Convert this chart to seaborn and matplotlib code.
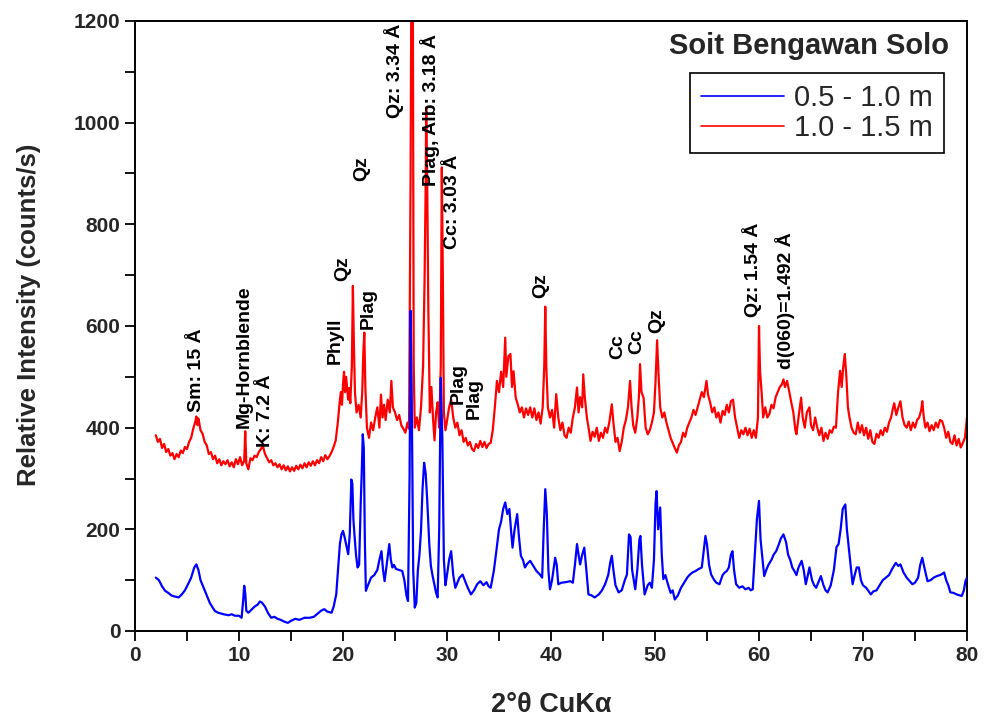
import numpy as np
import pandas as pd
import matplotlib
matplotlib.use("Agg")
import matplotlib.pyplot as plt
from matplotlib.ticker import MultipleLocator
import seaborn as sns

# ---------------- data ----------------
red_x = [2.0, 2.2, 2.4, 2.6, 2.8, 3.0, 3.2, 3.4, 3.6, 3.8, 4.0, 4.2, 4.4, 4.6, 4.8, 5.0, 5.2, 5.4, 5.6, 5.8,
         5.9, 6.0, 6.1, 6.3, 6.5, 6.7, 6.9, 7.1, 7.3, 7.5, 7.7, 7.9, 8.1, 8.3, 8.5, 8.7, 8.9, 9.1, 9.3, 9.5,
         9.7, 9.9, 10.1, 10.3, 10.5, 10.6, 10.7, 10.9, 11.1, 11.3, 11.5, 11.7, 11.9, 12.1, 12.3, 12.5, 12.7,
         12.9, 13.1, 13.3, 13.5, 13.7, 13.9, 14.1, 14.3, 14.5, 14.7, 14.9, 15.1, 15.3, 15.5, 15.7, 15.9, 16.1,
         16.3, 16.5, 16.7, 16.9, 17.1, 17.3, 17.5, 17.7, 17.9, 18.1, 18.3, 18.5, 18.7, 18.9, 19.1, 19.3, 19.5,
         19.7, 19.8, 19.9, 20.0, 20.1, 20.2, 20.3, 20.5, 20.6, 20.7, 20.85, 20.95, 21.05, 21.15, 21.3, 21.5,
         21.7, 21.85, 21.95, 22.05, 22.15, 22.3, 22.5, 22.7, 22.9, 23.1, 23.3, 23.5, 23.65, 23.8, 23.95, 24.1,
         24.3, 24.5, 24.65, 24.8, 25.0, 25.2, 25.4, 25.6, 25.8, 26.0, 26.2, 26.35, 26.5, 26.6, 26.7, 26.8,
         26.9, 27.1, 27.3, 27.5, 27.7, 27.85, 27.95, 28.0, 28.1, 28.2, 28.35, 28.5, 28.65, 28.8, 28.95, 29.1,
         29.25, 29.4, 29.5, 29.6, 29.7, 29.85, 30.0, 30.2, 30.4, 30.6, 30.8, 31.0, 31.2, 31.4, 31.6, 31.8,
         32.0, 32.2, 32.4, 32.6, 32.8, 33.0, 33.2, 33.4, 33.6, 33.8, 34.0, 34.2, 34.4, 34.6, 34.8, 35.0, 35.2,
         35.4, 35.6, 35.7, 35.9, 36.1, 36.25, 36.4, 36.6, 36.8, 37.0, 37.2, 37.4, 37.6, 37.8, 38.0, 38.2,
         38.4, 38.6, 38.8, 39.0, 39.2, 39.35, 39.45, 39.55, 39.7, 39.9, 40.1, 40.3, 40.5, 40.7, 40.9, 41.1,
         41.3, 41.5, 41.7, 41.9, 42.1, 42.3, 42.5, 42.65, 42.8, 43.0, 43.1, 43.25, 43.45, 43.65, 43.8, 44.0,
         44.2, 44.4, 44.6, 44.8, 45.0, 45.2, 45.4, 45.6, 45.85, 46.0, 46.2, 46.4, 46.6, 46.8, 47.0, 47.2,
         47.4, 47.6, 47.75, 47.9, 48.1, 48.3, 48.45, 48.56, 48.7, 48.9, 49.1, 49.3, 49.5, 49.7, 49.9, 50.05,
         50.2, 50.35, 50.5, 50.7, 50.9, 51.1, 51.3, 51.5, 51.7, 51.9, 52.1, 52.3, 52.5, 52.7, 52.9, 53.1,
         53.3, 53.5, 53.7, 53.9, 54.1, 54.3, 54.5, 54.7, 54.95, 55.1, 55.3, 55.5, 55.7, 55.9, 56.1, 56.3,
         56.5, 56.7, 56.9, 57.1, 57.3, 57.5, 57.7, 57.9, 58.1, 58.3, 58.5, 58.7, 58.9, 59.1, 59.3, 59.5,
         59.7, 59.9, 60.0, 60.1, 60.25, 60.4, 60.6, 60.8, 61.0, 61.2, 61.4, 61.6, 61.8, 62.0, 62.2, 62.35,
         62.5, 62.7, 62.9, 63.1, 63.3, 63.5, 63.6, 63.8, 64.05, 64.2, 64.4, 64.6, 64.85, 65.0, 65.2, 65.4,
         65.6, 65.8, 66.0, 66.2, 66.4, 66.6, 66.8, 67.0, 67.2, 67.4, 67.6, 67.8, 67.95, 68.1, 68.25, 68.4,
         68.55, 68.7, 68.9, 69.1, 69.3, 69.5, 69.7, 69.9, 70.1, 70.3, 70.5, 70.7, 70.9, 71.1, 71.3, 71.5,
         71.7, 71.9, 72.1, 72.3, 72.5, 72.7, 72.9, 73.0, 73.2, 73.4, 73.6, 73.8, 74.0, 74.2, 74.4, 74.6,
         74.8, 75.0, 75.2, 75.4, 75.6, 75.7, 75.85, 76.0, 76.2, 76.4, 76.6, 76.8, 77.0, 77.2, 77.4, 77.6,
         77.8, 78.0, 78.2, 78.4, 78.6, 78.8, 79.0, 79.2, 79.4, 79.6, 79.8, 80.0]
red_y = [385, 372, 378, 360, 368, 352, 358, 345, 350, 338, 348, 342, 355, 350, 362, 358, 372, 380, 398, 412,
         422, 405, 418, 395, 388, 372, 365, 348, 352, 338, 345, 330, 338, 326, 334, 328, 336, 324, 332, 322,
         338, 328, 342, 326, 335, 393, 330, 318, 340, 336, 345, 342, 352, 358, 364, 348, 340,
         332, 336, 326, 330, 322, 328, 318, 326, 316, 324, 314, 322, 315, 325, 318, 327, 320,
         330, 322, 332, 325, 334, 326, 336, 330, 342, 334, 346, 338, 344, 352, 362, 375, 410,
         455, 470, 445, 485, 510, 470, 500, 455, 478, 448, 520, 679, 560, 470, 430, 445,
         420, 470, 545, 587, 480, 400, 380, 410, 395, 420, 440, 400, 465, 420, 445, 415,
         455, 430, 492, 440, 430, 415, 425, 405, 398, 390, 410, 398, 900, 1420, 1380, 520,
         400, 420, 395, 440, 520, 700, 880, 1030, 880, 640, 430, 480, 420, 375, 430, 450,
         400, 520, 912, 700, 430, 395, 413, 440, 455, 420, 400, 410, 385, 395, 372, 380,
         365, 372, 358, 354, 368, 360, 374, 362, 372, 360, 368, 370, 395, 440, 492, 470, 510,
         480, 577, 500, 540, 545, 480, 511, 460, 446, 430, 440, 420, 438, 425, 440, 420,
         438, 415, 430, 408, 440, 520, 638, 520, 440, 420, 435, 400, 466, 420, 395, 410,
         385, 380, 400, 390, 420, 440, 479, 430, 460, 440, 505, 460, 420, 395, 374, 392,
         382, 400, 374, 390, 380, 400, 390, 410, 446, 410, 372, 380, 354, 372, 400, 415,
         440, 492, 440, 405, 390, 420, 460, 525, 470, 459, 400, 387, 395, 410, 430, 490,
         572, 500, 440, 420, 430, 410, 395, 380, 370, 360, 351, 365, 372, 390, 382, 400,
         410, 420, 435, 425, 440, 455, 470, 460, 492, 465, 450, 430, 440, 420, 430, 410,
         433, 425, 445, 430, 452, 455, 420, 400, 380, 395, 387, 400, 385, 398, 380, 395,
         380, 420, 600, 512, 470, 420, 440, 420, 427, 445, 438, 460, 470, 480, 485, 495,
         480, 492, 472, 450, 430, 395, 387, 420, 459, 420, 400, 430, 440, 405, 395, 420,
         400, 385, 400, 374, 390, 378, 395, 390, 402, 400, 470, 512, 480, 520, 545, 500,
         440, 420, 400, 390, 387, 410, 390, 405, 385, 400, 378, 395, 372, 368, 388, 380,
         395, 385, 400, 392, 410, 420, 440, 448, 425, 440, 452, 420, 405, 400, 412, 395,
         410, 400, 415, 420, 435, 452, 420, 400, 410, 393, 405, 395, 410, 400, 415, 413,
         400, 380, 392, 372, 368, 385, 365, 378, 361, 370, 380, 420]

blue_x = [2.0, 2.3, 2.6, 2.9, 3.2, 3.5, 3.8, 4.2, 4.5, 4.8, 5.1, 5.4, 5.7, 5.9, 6.1, 6.3, 6.6, 6.9, 7.2, 7.5,
          7.7, 8.0, 8.5, 9.0, 9.3, 9.6, 10.0, 10.25, 10.4, 10.5, 10.6, 10.7, 10.9, 11.2, 11.5, 11.8, 12.0,
          12.2, 12.5, 12.8, 13.1, 13.4, 13.7, 14.0, 14.4, 14.7, 15.0, 15.4, 15.8, 16.3, 16.8, 17.2, 17.6,
          17.9, 18.2, 18.5, 18.9, 19.1, 19.35, 19.55, 19.7, 19.85, 20.0, 20.15, 20.3, 20.5, 20.65, 20.8,
          20.9, 21.0, 21.1, 21.25, 21.4, 21.55, 21.7, 21.8, 21.9, 22.0, 22.1, 22.2, 22.4, 22.7, 23.0, 23.3,
          23.5, 23.7, 23.85, 24.0, 24.2, 24.45, 24.6, 24.75, 24.9, 25.1, 25.4, 25.7, 25.9, 26.1, 26.25,
          26.4, 26.5, 26.6, 26.75, 26.9, 27.05, 27.2, 27.35, 27.5, 27.65, 27.8, 27.95, 28.1, 28.3, 28.45,
          28.6, 28.8, 28.95, 29.1, 29.25, 29.4, 29.55, 29.7, 29.85, 30.0, 30.2, 30.4, 30.6, 30.8, 31.0,
          31.2, 31.5, 31.8, 32.0, 32.3, 32.6, 32.9, 33.2, 33.5, 33.8, 34.0, 34.2, 34.5, 34.7, 35.0, 35.2,
          35.4, 35.6, 35.8, 36.0, 36.15, 36.3, 36.5, 36.75, 36.9, 37.1, 37.3, 37.5, 37.7, 38.0, 38.3, 38.6,
          38.9, 39.15, 39.3, 39.45, 39.6, 39.75, 39.9, 40.1, 40.4, 40.55, 40.7, 41.0, 41.4, 41.85, 42.1,
          42.3, 42.5, 42.65, 42.8, 43.0, 43.2, 43.4, 43.6, 43.9, 44.2, 44.6, 44.9, 45.2, 45.5, 45.7, 45.85,
          46.0, 46.2, 46.5, 46.8, 47.1, 47.3, 47.5, 47.65, 47.8, 48.1, 48.3, 48.5, 48.6, 48.75, 49.0, 49.3,
          49.5, 49.7, 49.9, 50.05, 50.15, 50.3, 50.5, 50.65, 50.8, 51.0, 51.2, 51.5, 51.7, 51.9, 52.2, 52.5,
          52.8, 53.1, 53.35, 53.6, 53.9, 54.2, 54.5, 54.7, 54.85, 55.0, 55.2, 55.4, 55.7, 55.9, 56.2, 56.5,
          56.7, 56.9, 57.1, 57.3, 57.45, 57.6, 57.8, 58.1, 58.4, 58.7, 59.0, 59.2, 59.4, 59.6, 59.8, 60.0,
          60.15, 60.3, 60.5, 60.7, 60.9, 61.2, 61.4, 61.65, 61.9, 62.1, 62.35, 62.6, 62.8, 63.0, 63.2, 63.4,
          63.6, 63.8, 64.1, 64.3, 64.5, 64.7, 64.85, 65.1, 65.3, 65.5, 65.7, 65.95, 66.2, 66.4, 66.6, 66.9,
          67.2, 67.45, 67.65, 67.85, 68.05, 68.3, 68.45, 68.6, 68.7, 68.85, 69.0, 69.2, 69.4, 69.6, 69.8,
          70.0, 70.3, 70.55, 70.75, 71.0, 71.3, 71.6, 71.9, 72.2, 72.5, 72.8, 73.15, 73.4, 73.6, 73.9, 74.2,
          74.5, 74.75, 75.0, 75.3, 75.5, 75.7, 75.9, 76.2, 76.5, 76.8, 77.1, 77.4, 77.6, 77.8, 78.0, 78.2,
          78.4, 78.7, 79.0, 79.3, 79.5, 79.7, 79.85, 80.0]
blue_y = [105, 100, 88, 79, 75, 70, 68, 66, 72, 80, 92, 105, 125, 131, 120, 100, 85, 70, 55, 45,
          39, 36, 33, 31, 33, 30, 30, 26, 60, 89, 75, 40, 36, 42, 48, 52, 58,
          56, 48, 35, 26, 28, 24, 22, 18, 16, 20, 24, 22, 26, 26, 28, 35,
          40, 43, 38, 36, 48, 72, 130, 171, 190, 197, 185, 170, 151, 190, 298,
          290, 220, 190, 150, 125, 130, 250, 310, 387, 360, 180, 79, 90, 105, 110, 120,
          140, 157, 120, 98, 130, 171, 140, 125, 130, 122, 120, 118, 100, 70, 59,
          300, 630, 480, 120, 46, 55, 120, 150, 197, 280, 331, 310, 256, 170, 128,
          110, 90, 75, 66, 200, 498, 380, 140, 90, 110, 140, 157, 110, 85, 95,
          105, 111, 95, 85, 72, 80, 92, 98, 90, 96, 88, 85, 118, 150, 200, 215,
          240, 253, 230, 240, 200, 164, 200, 230, 190, 148, 140, 125, 132, 138, 128, 118,
          112, 105, 200, 279, 230, 120, 82, 100, 144, 130, 92, 95, 96, 98, 95,
          130, 171, 150, 131, 150, 164, 120, 72, 70, 66, 72, 80, 92, 110, 135, 148,
          120, 90, 76, 80, 100, 111, 190, 185, 120, 82, 120, 180, 187, 130, 72, 90,
          95, 85, 140, 250, 275, 200, 243, 150, 102, 110, 95, 75, 80, 62, 70, 85,
          95, 105, 111, 115, 118, 122, 125, 160, 187, 170, 130, 111, 100, 95, 92, 110,
          115, 118, 125, 150, 157, 120, 92, 85, 88, 82, 85, 80, 82, 150, 220, 256,
          180, 150, 108, 120, 130, 140, 150, 157, 170, 182, 190, 175, 150, 140, 125, 118,
          110, 125, 138, 120, 92, 110, 125, 100, 90, 85, 95, 108, 90, 80, 76, 90,
          120, 165, 171, 200, 240, 249, 200, 170, 151, 120, 92, 110, 125, 125, 100,
          90, 85, 78, 72, 78, 80, 90, 100, 105, 110, 122, 134, 128, 131, 115, 105,
          98, 92, 95, 105, 130, 144, 125, 98, 100, 105, 108, 110, 112, 115, 100, 90,
          76, 75, 72, 70, 69, 80, 98, 105]

series_labels = ["0.5 - 1.0 m", "1.0 - 1.5 m"]
legend_title = "Soit Bengawan Solo"

peak_labels = ["Sm: 15 Å", "Mg-Hornblende", "K: 7.2 Å", "Phyll", "Qz", "Qz", "Plag",
               "Qz: 3.34 Å", "Plag, Alb: 3.18 Å", "Cc: 3.03 Å", "Plag", "Plag",
               "Qz", "Cc", "Cc", "Qz", "Qz: 1.54 Å", "d(060)=1.492 Å"]
peak_label_x = [5.9, 10.55, 12.55, 19.25, 20.0, 21.8, 22.4,
                24.9, 28.35, 30.5, 31.1, 32.65,
                39.0, 46.4, 48.2, 50.15, 59.35, 62.5]
peak_label_y = [430, 400, 361, 525, 689, 885, 594,
                1010, 875, 751, 446, 417,
                656, 536, 545, 587, 617, 515]

x_ticks = [0, 10, 20, 30, 40, 50, 60, 70, 80]
y_ticks = [0, 200, 400, 600, 800, 1000, 1200]

# ---------------- plot ----------------
sns.set_theme(style="ticks")
plt.rcParams["font.family"] = ["Liberation Sans", "DejaVu Sans"]

df_blue = pd.DataFrame({"x": blue_x, "y": blue_y})
df_red = pd.DataFrame({"x": red_x, "y": red_y})

fig = plt.figure(figsize=(9.85, 7.23), dpi=100)
ax = fig.add_axes([135 / 985, 92 / 723, 832 / 985, 610 / 723])

sns.lineplot(data=df_red, x="x", y="y", ax=ax, color="#ff0000", lw=1.6,
             estimator=None, sort=False, label=series_labels[1], zorder=2)
sns.lineplot(data=df_blue, x="x", y="y", ax=ax, color="#0000ff", lw=1.6,
             estimator=None, sort=False, label=series_labels[0], zorder=3)

ax.set_xlim(0, 80)
ax.set_ylim(0, 1200)
ax.set_xticks(x_ticks)
ax.set_yticks(y_ticks)
ax.xaxis.set_minor_locator(MultipleLocator(5))
ax.yaxis.set_minor_locator(MultipleLocator(100))
ax.tick_params(which="both", direction="out", length=7, width=1.3, color="black",
               top=False, right=False)
for lab in ax.get_xticklabels() + ax.get_yticklabels():
    lab.set_fontweight("bold")
    lab.set_fontsize(15)
for sp in ax.spines.values():
    sp.set_visible(True)
    sp.set_linewidth(1.4)
    sp.set_color("black")

ax.set_xlabel("2°θ CuKα", fontsize=19.5, fontweight="bold", labelpad=20)
ax.set_ylabel("Relative Intensity (counts/s)", fontsize=18.5, fontweight="bold")
ax.yaxis.set_label_coords(-0.113, 0.518)

for t, xv, yv in zip(peak_labels, peak_label_x, peak_label_y):
    ax.text(xv, yv, t, rotation=90, ha="center", va="bottom", fontsize=14,
            fontweight="bold", color="black", clip_on=False, zorder=5)

handles, labels = ax.get_legend_handles_labels()
order = [labels.index(series_labels[0]), labels.index(series_labels[1])]
leg = ax.legend([handles[i] for i in order], [labels[i] for i in order],
                loc="upper right", bbox_to_anchor=(0.9725, 0.915),
                borderaxespad=0, fontsize=21, frameon=True, fancybox=False,
                edgecolor="black", framealpha=1, handlelength=2.85,
                handletextpad=0.35, labelspacing=0.08, borderpad=0.38)
leg.get_frame().set_linewidth(1.2)
for ln in leg.get_lines():
    ln.set_linewidth(1.2)

ax.text(0.978, 0.959, legend_title, transform=ax.transAxes, ha="right", va="center",
        fontsize=21, fontweight="bold")

fig.savefig("out.png", dpi=100)
